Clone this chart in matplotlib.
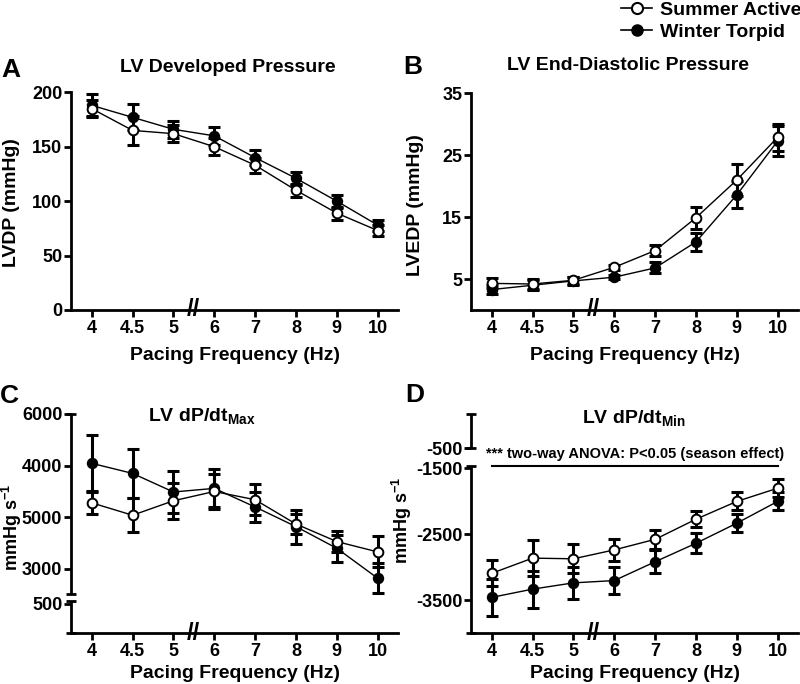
import numpy as np
import matplotlib
matplotlib.use('Agg')
from matplotlib import pyplot as plt
from matplotlib.lines import Line2D

plt.rcParams['font.family'] = ['Liberation Sans', 'DejaVu Sans']
plt.rcParams['font.weight'] = 'bold'
plt.rcParams['mathtext.fontset'] = 'custom'
plt.rcParams['mathtext.rm'] = 'Liberation Sans:bold'
plt.rcParams['mathtext.bf'] = 'Liberation Sans:bold'
plt.rcParams['mathtext.it'] = 'Liberation Sans:bold:italic'

# pacing frequencies (equally spaced categories, axis break between 5 and 6)
freq_labels = ['4', '4.5', '5', '6', '7', '8', '9', '10']

# A: LV developed pressure (mmHg)
lvdp_summer = [185, 165, 162, 150, 133, 110, 89, 73]
lvdp_summer_sem = [8, 13, 8, 8, 7, 6, 6, 5]
lvdp_winter = [188, 177, 166, 160, 140, 121, 100, 78]
lvdp_winter_sem = [10, 12, 8, 8, 7, 6, 6, 5]

# B: LV end-diastolic pressure (mmHg)
lvedp_summer = [4.3, 4.2, 4.8, 6.9, 9.6, 14.9, 21.0, 27.9]
lvedp_summer_sem = [0.8, 0.8, 0.6, 0.4, 0.9, 1.8, 2.6, 2.2]
lvedp_winter = [3.3, 4.0, 4.7, 5.3, 6.8, 11.0, 18.6, 27.3]
lvedp_winter_sem = [0.7, 0.8, 0.6, 0.3, 0.9, 1.5, 2.2, 2.4]

# C: dP/dt max (plot scale of the original axis)
dpmax_summer = [4280, 4040, 4320, 4500, 4340, 3870, 3530, 3330]
dpmax_summer_sem = [215, 330, 345, 340, 300, 200, 200, 300]
dpmax_winter = [5045, 4850, 4490, 4560, 4200, 3820, 3400, 2820]
dpmax_winter_sem = [540, 480, 400, 370, 290, 330, 260, 290]
dpmax_ticks = [6000, 5000, 4000, 3000, 2323]
dpmax_ticklabels = ['6000', '4000', '5000', '3000', '500']

# D: dP/dt min (plot scale of the original axis)
dpmin_summer = [-3095, -2865, -2875, -2740, -2580, -2275, -2005, -1805]
dpmin_summer_sem = [200, 270, 220, 170, 140, 125, 135, 135]
dpmin_winter = [-3460, -3335, -3240, -3205, -2920, -2640, -2335, -2005]
dpmin_winter_sem = [285, 280, 240, 210, 175, 150, 140, 135]
dpmin_ticks = [-1196, -1500, -2500, -3500]
dpmin_ticklabels = ['-500', '-1500', '-2500', '-3500']

x = np.arange(len(freq_labels))

fig = plt.figure(figsize=(8, 6.84), dpi=100)
W, H = 800.0, 684.0
FS = 14
TICK_FS = 13


def make_ax(left, top, bottom):
    width = 326.8
    return fig.add_axes([left / W, 1 - bottom / H, width / W, (bottom - top) / H])


def style(ax, ylim, yticks, yticklabels, vsegments=None):
    ax.set_xlim(-0.5, 7.5)
    ax.set_ylim(*ylim)
    ax.set_xticks(x)
    ax.set_xticklabels(freq_labels)
    ax.set_yticks(yticks)
    ax.set_yticklabels(yticklabels)
    for s in ['top', 'right']:
        ax.spines[s].set_visible(False)
    ax.spines['bottom'].set_linewidth(2)
    ax.spines['left'].set_linewidth(2)
    ax.tick_params(axis='both', direction='out', length=5, width=2, labelsize=TICK_FS)
    ax.tick_params(axis='x', pad=2.5)
    ax.tick_params(axis='y', pad=1.5)
    for lab in ax.get_xticklabels() + ax.get_yticklabels():
        lab.set_fontweight('bold')
    if vsegments is not None:
        ax.spines['left'].set_visible(False)
        tr = ax.get_yaxis_transform()
        for y0, y1 in vsegments:
            ax.plot([0, 0], [y0, y1], color='black', lw=2, transform=tr, clip_on=False,
                    solid_capstyle='butt')
            ax.plot([0, 0], [y0, y1], ls='none', marker='_', ms=7, mew=2, color='black',
                    transform=tr, clip_on=False)
    # x axis break mark
    ax.text(2.5, 0, '//', transform=ax.get_xaxis_transform(), ha='center', va='center',
            fontsize=17, fontweight='bold', clip_on=False)


def draw(ax, s, s_sem, w, w_sem):
    ax.errorbar(x, w, yerr=w_sem, fmt='none', ecolor='black', elinewidth=2.2,
                capsize=4.5, capthick=2.2, zorder=3)
    ax.errorbar(x, s, yerr=s_sem, fmt='none', ecolor='black', elinewidth=2.2,
                capsize=4.5, capthick=2.2, zorder=3)
    ax.plot(x, w, '-', color='black', lw=1, marker='o', ms=7, mfc='black', mec='black',
            mew=1.2, zorder=4, clip_on=False)
    ax.plot(x, s, '-', color='black', lw=1, marker='o', ms=7, mfc='white', mec='black',
            mew=1.4, zorder=5, clip_on=False)


axA = make_ax(71.3, 92.3, 310)
draw(axA, lvdp_summer, lvdp_summer_sem, lvdp_winter, lvdp_winter_sem)
style(axA, (0, 200), [0, 50, 100, 150, 200], ['0', '50', '100', '150', '200'])

axB = make_ax(471.3, 93.3, 310)
draw(axB, lvedp_summer, lvedp_summer_sem, lvedp_winter, lvedp_winter_sem)
style(axB, (0, 35), [5, 15, 25, 35], ['5', '15', '25', '35'])

axC = make_ax(71.3, 414, 633)
draw(axC, dpmax_summer, dpmax_summer_sem, dpmax_winter, dpmax_winter_sem)
style(axC, (1760, 6000), dpmax_ticks, dpmax_ticklabels,
      vsegments=[(2516, 6000), (1760, 2381)])

axD = make_ax(471.3, 414, 633)
draw(axD, dpmin_summer, dpmin_summer_sem, dpmin_winter, dpmin_winter_sem)
style(axD, (-4000, -680), dpmin_ticks, dpmin_ticklabels,
      vsegments=[(-1196, -680), (-4000, -1470)])
axD.plot([0, 7], [-1465, -1465], color='black', lw=1.5, clip_on=False)
axD.text(3.5, -1400, '*** two-way ANOVA: P<0.05 (season effect)', ha='center', va='bottom',
         fontsize=10.5, fontweight='bold')

# titles, axis labels, panel letters
fig.text(228 / W, 1 - 67 / H, 'LV Developed Pressure', ha='center', va='center', fontsize=FS)
fig.text(628 / W, 1 - 66 / H, 'LV End-Diastolic Pressure', ha='center', va='center', fontsize=FS)
fig.text(202 / W, 1 - 416 / H, r'LV dP/dt$_{\mathrm{Max}}$', ha='center', va='center', fontsize=FS)
fig.text(634 / W, 1 - 418 / H, r'LV dP/dt$_{\mathrm{Min}}$', ha='center', va='center', fontsize=FS)

for cx, cy in [(235, 356), (635, 356), (235, 673), (635, 673)]:
    fig.text(cx / W, 1 - cy / H, 'Pacing Frequency (Hz)', ha='center', va='center', fontsize=FS)

fig.text(12 / W, 1 - 203 / H, 'LVDP (mmHg)', rotation=90, ha='center', va='center', fontsize=FS)
fig.text(415 / W, 1 - 205 / H, 'LVEDP (mmHg)', rotation=90, ha='center', va='center', fontsize=FS)
fig.text(11.5 / W, 1 - 527 / H, r'mmHg s$^{-1}$', rotation=90, ha='center', va='center', fontsize=13)
fig.text(402 / W, 1 - 520 / H, r'mmHg s$^{-1}$', rotation=90, ha='center', va='center', fontsize=13)

for lab, cx, cy in [('A', 11, 70), ('B', 413, 67), ('C', 9, 396), ('D', 415, 395)]:
    fig.text(cx / W, 1 - cy / H, lab, ha='center', va='center', fontsize=19)

handles = [
    Line2D([], [], color='black', lw=1.2, marker='o', ms=8, mfc='white', mec='black', mew=1.5),
    Line2D([], [], color='black', lw=1.2, marker='o', ms=8, mfc='black', mec='black'),
]
fig.legend(handles, ['Summer Active', 'Winter Torpid'], loc='upper left',
           bbox_to_anchor=(620 / W, 1 - 0 / H), frameon=False, fontsize=FS,
           handlelength=1.6, handletextpad=0.4, labelspacing=0.25, borderpad=0.05,
           borderaxespad=0)

fig.savefig('out.png', dpi=100)
